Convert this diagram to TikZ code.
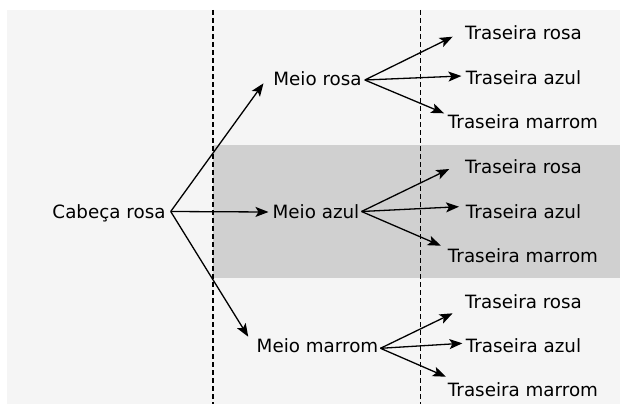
\documentclass[tikz,border=0pt]{standalone}
\usepackage{fontspec}
\setmainfont{DejaVu Sans}
\usetikzlibrary{arrows.meta,calc}
\definecolor{bglight}{HTML}{F5F5F5}
\definecolor{bgband}{HTML}{D0D0D0}
\begin{document}
\begin{tikzpicture}[x=1pt,y=-1pt,
  lbl/.style={anchor=base, inner sep=0pt, text height=13pt, text depth=0pt, font=\fontsize{18.3}{20}\selectfont},
  conn/.style={line width=1.3pt, -{Stealth[length=13pt,width=10pt,inset=3pt]}},
  guide/.style={line width=1.2pt, dash pattern=on 5pt off 3pt}]
\useasboundingbox (0,0) rectangle (620,404);
\fill[bglight] (7,10) rectangle (620,404);
\fill[bgband] (213,145) rectangle (620,278);
\draw[guide] (213,10) -- (213,404);
\draw[guide] (420.5,10) -- (420.5,404);

% nodes
\node[lbl] (cab) at (109,218) {Cabeça rosa};
\node[lbl] (mr) at (317.5,85) {Meio rosa};
\node[lbl] (ma) at (316,218) {Meio azul};
\node[lbl] (mm) at (317.5,352) {Meio marrom};

\node[lbl] (tr1) at (523.5,40) {Traseira rosa};
\node[lbl] (ta1) at (523.5,84) {Traseira azul};
\node[lbl] (tm1) at (523,128) {Traseira marrom};

\node[lbl] (tr2) at (523.5,173) {Traseira rosa};
\node[lbl] (ta2) at (523.5,218) {Traseira azul};
\node[lbl] (tm2) at (523,262) {Traseira marrom};

\node[lbl] (tr3) at (523.5,308) {Traseira rosa};
\node[lbl] (ta3) at (523.5,352) {Traseira azul};
\node[lbl] (tm3) at (523,396) {Traseira marrom};

% connectors
\draw[conn] ($(cab.east)+(5,0)$) -- ($(mr.west)+(-9.7,4.8)$);
\draw[conn] ($(cab.east)+(5,0)$) -- ($(ma.west)+(-4,0.5)$);
\draw[conn] ($(cab.east)+(5,0)$) -- ($(mm.west)+(-8.3,-8.8)$);

\draw[conn] ($(mr.east)+(3,1.5)$) -- ($(tr1.west)+(-12.3,3.2)$);
\draw[conn] ($(mr.east)+(3,1.5)$) -- ($(ta1.west)+(-4.3,-1.5)$);
\draw[conn] ($(mr.east)+(3,1.5)$) -- ($(tm1.west)+(-3.7,-8.2)$);

\draw[conn] ($(ma.east)+(2,0)$) -- ($(tr2.west)+(-15.7,2.5)$);
\draw[conn] ($(ma.east)+(2,0)$) -- ($(ta2.west)+(-6.7,-4.8)$);
\draw[conn] ($(ma.east)+(2,0)$) -- ($(tm2.west)+(-7,-9.8)$);

\draw[conn] ($(mm.east)+(2,2.8)$) -- ($(tr3.west)+(-12.3,11.8)$);
\draw[conn] ($(mm.east)+(2,2.8)$) -- ($(ta3.west)+(-3.3,-2.2)$);
\draw[conn] ($(mm.east)+(2,2.8)$) -- ($(tm3.west)+(-2,-12.8)$);
\end{tikzpicture}
\end{document}
